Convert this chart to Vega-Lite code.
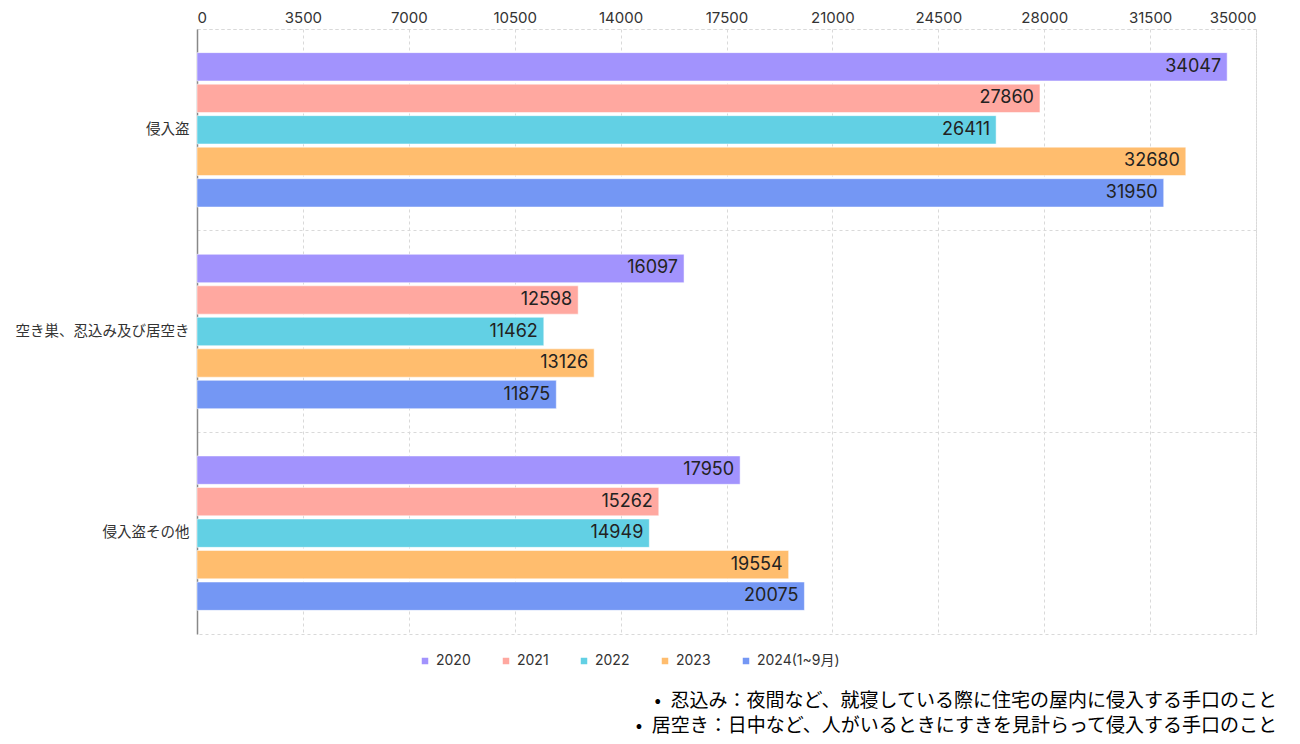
{
  "$schema": "https://vega.github.io/schema/vega-lite/v6.json",
  "width": 1059,
  "height": 605,
  "padding": {"left": 15, "top": 10, "right": 20, "bottom": 5},
  "background": "white",
  "config": {
    "font": "Inter, Noto Sans CJK JP",
    "view": {"stroke": "#d9d9d9", "strokeDash": [3, 3]}
  },
  "title": {
    "text": ["•\u2002忍込み：夜間など、就寝している際に住宅の屋内に侵入する手口のこと", "•\u2002居空き：日中など、人がいるときにすきを見計らって侵入する手口のこと"],
    "orient": "bottom",
    "anchor": "end",
    "frame": "group",
    "fontSize": 19,
    "fontWeight": "normal",
    "color": "#000",
    "font": "Noto Sans CJK JP",
    "lineHeight": 24.5,
    "offset": 24,
    "dx": 21
  },
  "data": {
    "values": [
      {"category": "侵入盗", "year": "2020", "value": 34047},
      {"category": "侵入盗", "year": "2021", "value": 27860},
      {"category": "侵入盗", "year": "2022", "value": 26411},
      {"category": "侵入盗", "year": "2023", "value": 32680},
      {"category": "侵入盗", "year": "2024(1~9月)", "value": 31950},
      {"category": "空き巣、忍込み及び居空き", "year": "2020", "value": 16097},
      {"category": "空き巣、忍込み及び居空き", "year": "2021", "value": 12598},
      {"category": "空き巣、忍込み及び居空き", "year": "2022", "value": 11462},
      {"category": "空き巣、忍込み及び居空き", "year": "2023", "value": 13126},
      {"category": "空き巣、忍込み及び居空き", "year": "2024(1~9月)", "value": 11875},
      {"category": "侵入盗その他", "year": "2020", "value": 17950},
      {"category": "侵入盗その他", "year": "2021", "value": 15262},
      {"category": "侵入盗その他", "year": "2022", "value": 14949},
      {"category": "侵入盗その他", "year": "2023", "value": 19554},
      {"category": "侵入盗その他", "year": "2024(1~9月)", "value": 20075}
    ]
  },
  "encoding": {
    "y": {
      "field": "category",
      "type": "nominal",
      "sort": ["侵入盗", "空き巣、忍込み及び居空き", "侵入盗その他"],
      "scale": {"paddingInner": 0, "paddingOuter": 0},
      "axis": {
        "title": null,
        "labelFontSize": 14.5,
        "labelColor": "#333",
        "labelFont": "Noto Sans CJK JP",
        "ticks": false,
        "labelPadding": 8,
        "domainColor": "#888",
        "domainWidth": 1.5,
        "grid": true,
        "bandPosition": 0,
        "gridColor": "#d9d9d9",
        "gridDash": [3, 3]
      }
    },
    "yOffset": {
      "field": "year",
      "type": "nominal",
      "sort": ["2020", "2021", "2022", "2023", "2024(1~9月)"],
      "scale": {"paddingInner": 0.1, "paddingOuter": 0.75}
    },
    "x": {
      "field": "value",
      "type": "quantitative",
      "scale": {"domain": [0, 35000], "nice": false},
      "axis": {
        "orient": "top",
        "title": null,
        "values": [0, 3500, 7000, 10500, 14000, 17500, 21000, 24500, 28000, 31500, 35000],
        "format": "d",
        "labelFontSize": 15,
        "labelColor": "#333",
        "ticks": false,
        "domain": false,
        "labelPadding": 4,
        "gridColor": "#d9d9d9",
        "gridDash": [3, 3]
      }
    }
  },
  "layer": [
    {
      "mark": {"type": "bar", "stroke": "white", "strokeOpacity": 0.5, "strokeWidth": 1},
      "encoding": {
        "color": {
          "field": "year",
          "type": "nominal",
          "sort": ["2020", "2021", "2022", "2023", "2024(1~9月)"],
          "scale": {
            "domain": ["2020", "2021", "2022", "2023", "2024(1~9月)"],
            "range": ["#a293fd", "#ffa8a0", "#62d0e4", "#ffbd6e", "#7497f4"]
          },
          "legend": {
            "orient": "none",
            "legendX": 221,
            "legendY": 625,
            "direction": "horizontal",
            "title": null,
            "symbolType": "square",
            "symbolSize": 64,
            "labelFontSize": 14,
            "labelColor": "#333",
            "columnPadding": 28
          }
        }
      }
    },
    {
      "mark": {"type": "text", "align": "right", "baseline": "middle", "dx": -6, "fontSize": 18, "color": "#222"},
      "encoding": {"text": {"field": "value", "type": "quantitative", "format": "d"}}
    }
  ]
}
